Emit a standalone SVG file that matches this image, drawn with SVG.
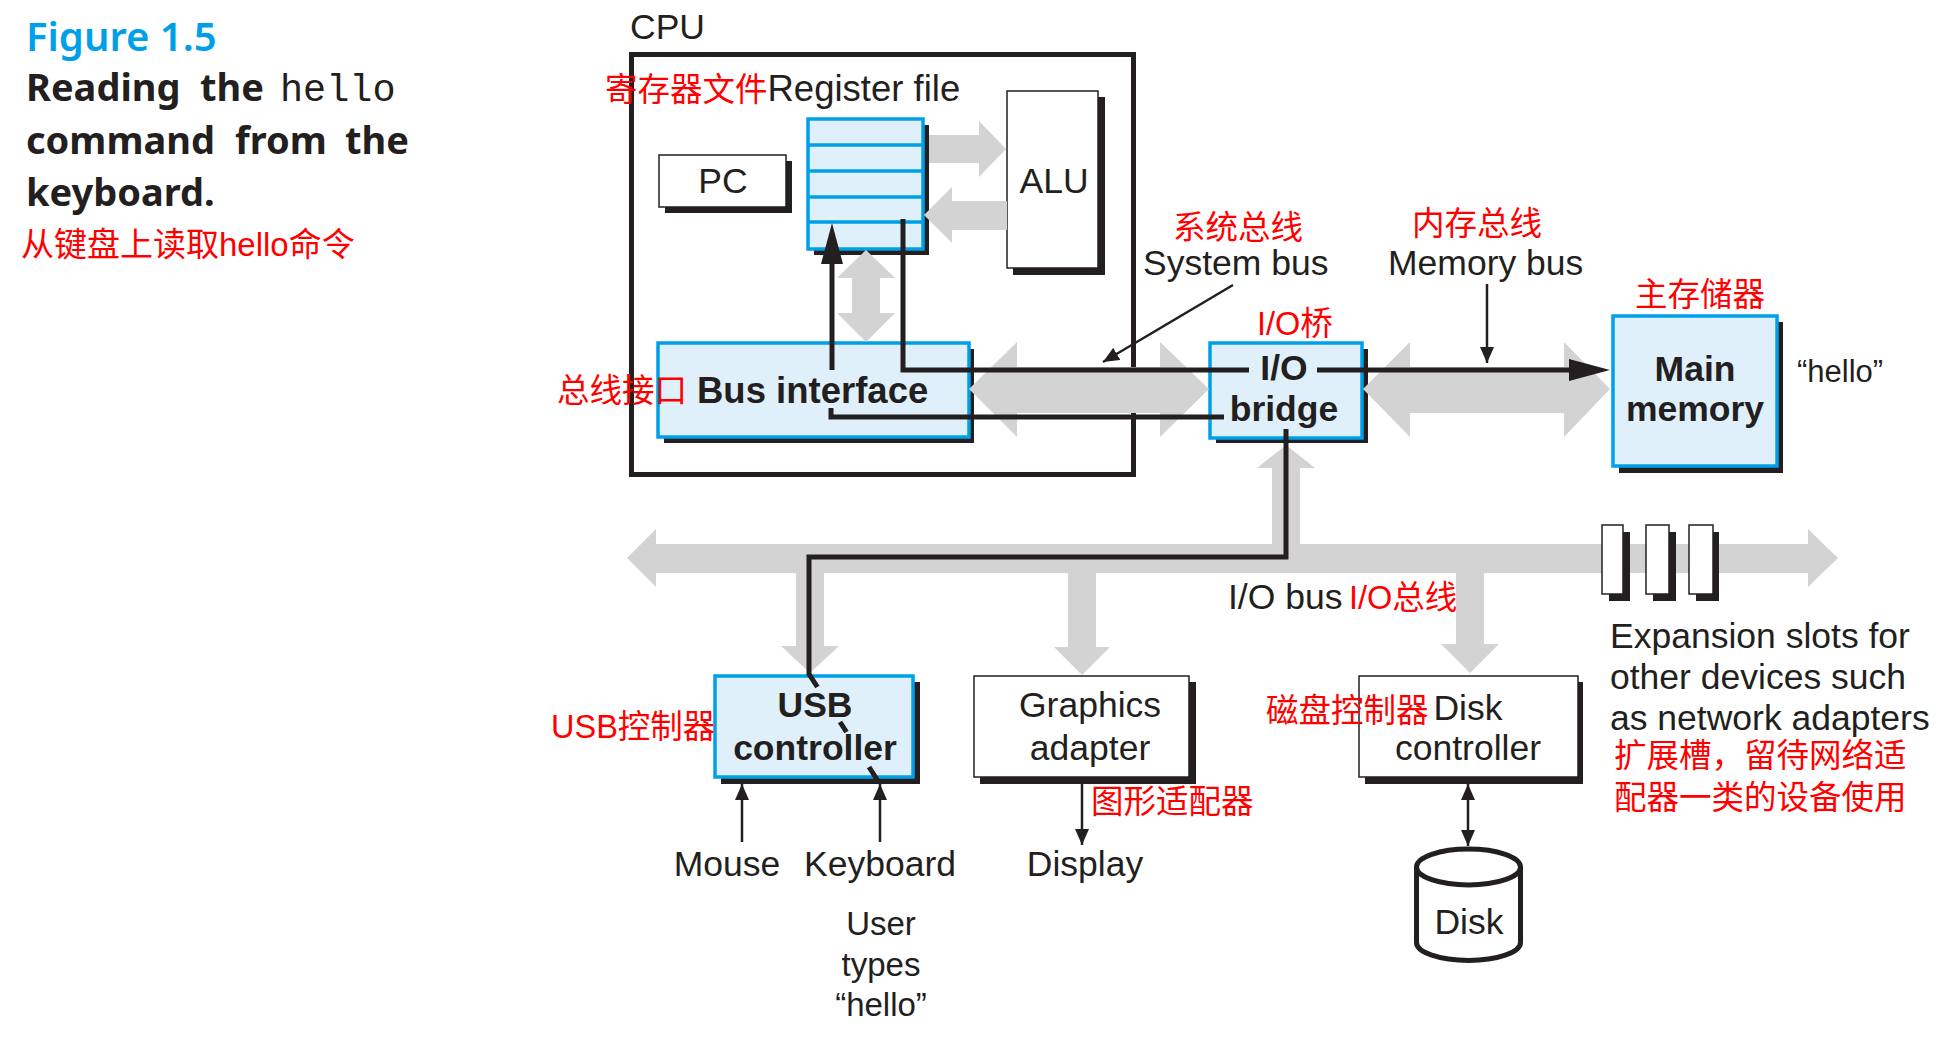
<svg xmlns="http://www.w3.org/2000/svg" width="1951" height="1040" viewBox="0 0 1951 1040">
<style>
.t{font-family:"Liberation Sans",Arial,sans-serif;font-size:35.5px;fill:#231f20}
.b{font-weight:bold}
.m{text-anchor:middle}
.r{font-family:"Liberation Sans","Noto Sans CJK SC",sans-serif;font-size:32.5px;fill:#ff0000}
.cap{font-family:"Noto Sans",sans-serif;font-weight:bold;font-size:38px;fill:#231f20}
.mono{font-family:"Liberation Mono",monospace;font-size:38.5px;fill:#231f20}
.sh{fill:#231f20}
.wb{fill:#ffffff;stroke:#231f20;stroke-width:1.5}
.bb{fill:#dff0fa;stroke:#00a0e9;stroke-width:3.5}
.g{fill:#d3d3d3}
.k{fill:none;stroke:#231f20;stroke-width:5}
.th{fill:none;stroke:#231f20;stroke-width:2.5}
</style>
<defs>
<marker id="ah" markerUnits="userSpaceOnUse" markerWidth="16" markerHeight="14" refX="16" refY="7" orient="auto-start-reverse">
<path d="M0,0 L16,7 L0,14 z" fill="#231f20"/>
</marker>
</defs>
<rect width="1951" height="1040" fill="#ffffff"/>

<g id="caption">
<text x="26" y="51" style="font-family:'Noto Sans',sans-serif;font-weight:600;font-size:40px;fill:#00a0e9">Figure 1.5</text>
<text class="cap" y="101"><tspan x="26">Reading</tspan><tspan x="200">the</tspan></text>
<text class="mono" x="280" y="101">hello</text>
<text class="cap" y="154"><tspan x="26">command</tspan><tspan x="235">from</tspan><tspan x="345">the</tspan></text>
<text class="cap" x="26" y="206">keyboard.</text>
<text class="r" x="21" y="256" style="font-size:33px">从键盘上读取hello命令</text>
</g>

<g id="cpu">
<rect x="631.5" y="54.5" width="502" height="420" fill="none" stroke="#231f20" stroke-width="5"/>
<text class="t" x="630" y="39">CPU</text>
</g>

<g id="pc">
<rect class="sh" x="665" y="161" width="127" height="52"/>
<rect class="wb" x="659" y="155" width="127" height="52"/>
<text class="t m" x="723" y="193">PC</text>
</g>

<g id="register-file">
<rect class="sh" x="814" y="125" width="115" height="130"/>
<rect class="bb" x="808" y="119" width="115" height="130"/>
<path d="M808,145 H923 M808,171 H923 M808,197 H923 M808,222 H923" stroke="#00a0e9" stroke-width="3.5"/>
<text x="605" y="101" class="t" style="font-size:36.5px"><tspan class="r">寄存器文件</tspan>Register file</text>
</g>

<g id="alu">
<rect class="sh" x="1013" y="97" width="92" height="178"/>
<rect class="wb" x="1007" y="91" width="91" height="177"/>
<text class="t m" x="1054" y="193">ALU</text>
</g>

<g id="bus-interface">
<rect class="sh" x="664" y="349" width="310" height="94"/>
<rect class="bb" x="658" y="343" width="311" height="94"/>
<text class="r" x="557" y="402">总线接口</text>
<text class="t b" x="697" y="403" style="font-size:36.5px">Bus interface</text>
</g>

<g id="io-bridge">
<rect class="sh" x="1216" y="349" width="152" height="94"/>
<rect class="bb" x="1210" y="343" width="152" height="95"/>
<text class="t b m" x="1284" y="380">I/O</text>
<text class="t b m" x="1284" y="421">bridge</text>
<text class="r" x="1257" y="335">I/O桥</text>
</g>

<g id="main-memory">
<rect class="sh" x="1619" y="322" width="164" height="151"/>
<rect class="bb" x="1613" y="316" width="164" height="150"/>
<text class="t b m" x="1695" y="381">Main</text>
<text class="t b m" x="1695" y="421">memory</text>
<text class="r" x="1635" y="306">主存储器</text>
<text class="t" x="1797" y="382" style="font-size:31px">“hello”</text>
</g>

<g id="usb-controller">
<rect class="sh" x="721" y="682" width="199" height="102"/>
<rect class="bb" x="715" y="676" width="198" height="101"/>
<text class="t b m" x="815" y="717">USB</text>
<text class="t b m" x="815" y="760">controller</text>
<text class="r" x="551" y="738">USB控制器</text>
</g>

<g id="graphics-adapter">
<rect class="sh" x="980" y="682" width="216" height="102"/>
<rect class="wb" x="974" y="676" width="215" height="101"/>
<text class="t m" x="1090" y="717">Graphics</text>
<text class="t m" x="1090" y="760">adapter</text>
<text class="r" x="1091" y="813">图形适配器</text>
</g>

<g id="disk-controller">
<rect class="sh" x="1365" y="682" width="218" height="102"/>
<rect class="wb" x="1359" y="676" width="219" height="101"/>
<text class="t m" x="1468" y="720">Disk</text>
<text class="t m" x="1468" y="760">controller</text>
<text class="r" x="1266" y="722">磁盘控制器</text>
</g>

<g id="disk">
<path d="M1416.5,867 V942.5 A52,18 0 0 0 1520.5,942.5 V867" fill="#ffffff" stroke="#231f20" stroke-width="5"/>
<ellipse cx="1468.5" cy="867" rx="52" ry="18" fill="#ffffff" stroke="#231f20" stroke-width="5"/>
<text class="t m" x="1469" y="934">Disk</text>
</g>

<g id="devices">
<text class="t m" x="727" y="876">Mouse</text>
<text class="t m" x="880" y="876">Keyboard</text>
<text class="t m" x="1085" y="876">Display</text>
<text class="t m" x="881" y="935" style="font-size:33px">User</text>
<text class="t m" x="881" y="976" style="font-size:33px">types</text>
<text class="t m" x="881" y="1016" style="font-size:33px">“hello”</text>
</g>

<g id="bus-labels">
<text class="r" x="1173" y="239">系统总线</text>
<text class="t" x="1143" y="275">System bus</text>
<text class="r" x="1412" y="235">内存总线</text>
<text class="t" x="1388" y="275">Memory bus</text>
<text class="t" x="1228" y="609">I/O bus</text>
<text class="r" x="1349" y="609">I/O总线</text>
</g>

<g id="connectors">
<g id="bus-arrows" class="g">
<polygon points="929,135 979,135 979,121 1006,149 979,177 979,163 929,163"/>
<polygon points="1007,201 952,201 952,187 924,215 952,243 952,230 1007,230"/>
<polygon points="866,250 895,278 880,278 880,313 895,313 866,342 837,313 852,313 852,278 837,278"/>
<polygon points="969,389 1017,342 1017,367 1160,367 1160,342 1209,389 1160,437 1160,413 1017,413 1017,437"/>
<polygon points="1363,389 1410,342 1410,367 1564,367 1564,342 1610,389 1564,437 1564,413 1410,413 1410,437"/>
<polygon points="627,558 656,529 656,544 1808,544 1808,529 1838,558 1808,587 1808,573 656,573 656,587"/>
<rect x="1272" y="466" width="28" height="80"/>
<polygon points="1286,445 1315,468 1257,468"/>
<rect x="796" y="570" width="28" height="78"/>
<polygon points="781,646 839,646 810,673"/>
<rect x="1068" y="570" width="28" height="79"/>
<polygon points="1054,647 1110,647 1082,675"/>
<rect x="1456" y="570" width="28" height="76"/>
<polygon points="1441,644 1499,644 1470,673"/>
</g>
<g id="data-path">
<path class="k" d="M903,219 V370 H1249"/>
<path class="k" d="M1317,370 H1572"/>
<polygon points="1610,370 1569,359 1569,381" fill="#231f20"/>
<path class="k" d="M1224,417 H831 V408"/>
<path class="k" d="M832,370 V260"/>
<polygon points="832,223 821,264 843,264" fill="#231f20"/>
<path class="k" d="M1286,429 V557 H809 V674 L817.4,687"/>
<path class="k" d="M840,722 L846.5,732"/>
<path class="k" d="M869,767 L878,781"/>
</g>
<g id="thin-arrows">
<line class="th" x1="742" y1="842" x2="742" y2="784" marker-end="url(#ah)"/>
<line class="th" x1="880" y1="842" x2="880" y2="784" marker-end="url(#ah)"/>
<line class="th" x1="1082" y1="784" x2="1082" y2="845" marker-end="url(#ah)"/>
<line class="th" x1="1468" y1="784" x2="1468" y2="846" marker-start="url(#ah)" marker-end="url(#ah)"/>
<line class="th" x1="1487" y1="284" x2="1487" y2="363" marker-end="url(#ah)"/>
<line class="th" x1="1233" y1="285" x2="1103" y2="362" marker-end="url(#ah)"/>
</g>
</g>

<g id="expansion-slots">
<rect class="sh" x="1609" y="532" width="21" height="69"/>
<rect class="wb" x="1602" y="525" width="21" height="69"/>
<rect class="sh" x="1653" y="532" width="23" height="69"/>
<rect class="wb" x="1646" y="525" width="23" height="69"/>
<rect class="sh" x="1696" y="532" width="23" height="69"/>
<rect class="wb" x="1689" y="525" width="24" height="69"/>
<text class="t" x="1610" y="648">Expansion slots for</text>
<text class="t" x="1610" y="689">other devices such</text>
<text class="t" x="1610" y="730">as network adapters</text>
<text class="r" x="1614" y="767">扩展槽，留待网络适</text>
<text class="r" x="1614" y="809">配器一类的设备使用</text>
</g>
</svg>
